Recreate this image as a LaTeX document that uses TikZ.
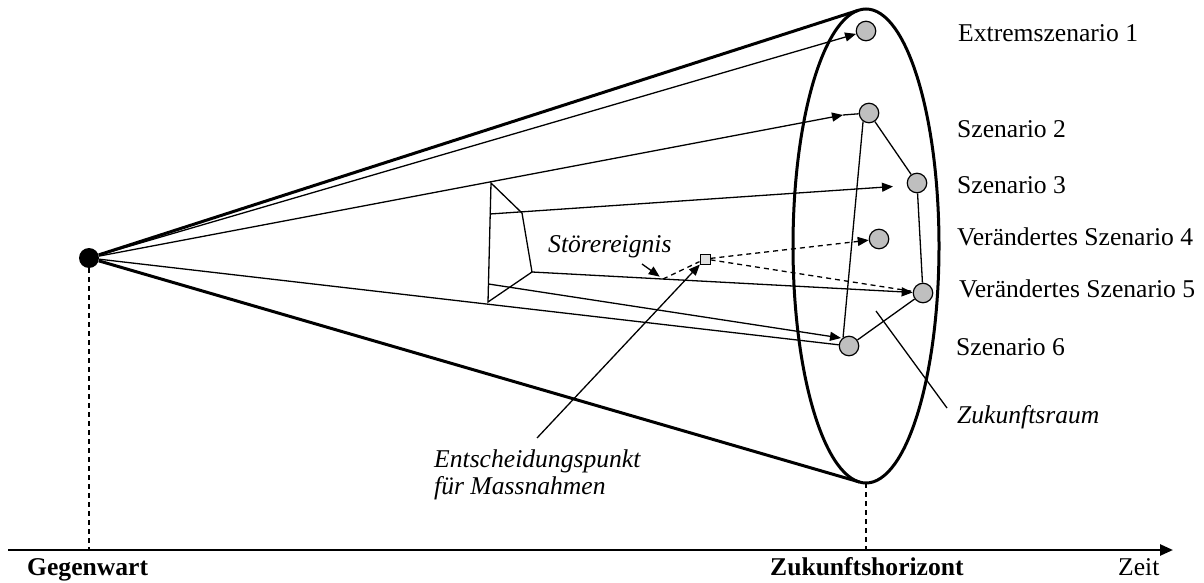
\documentclass[tikz,border=0pt]{standalone}
\usepackage{fontspec}
\setmainfont{Liberation Serif}
\usetikzlibrary{arrows.meta,calc}
\begin{document}
\begin{tikzpicture}[x=1pt,y=-1pt,
  thinline/.style={line width=1.3pt},
  cone/.style={line width=3pt},
  arr/.style={-{Triangle[length=11pt,width=9pt]}},
  scen/.style={circle,draw,line width=1.2pt,fill=black!25,minimum size=19.5pt,inner sep=0pt},
  lbl/.style={anchor=base west,inner sep=0pt,font=\fontsize{25.6}{30}\selectfont},
  dsh/.style={dash pattern=on 5pt off 4pt}
]
\useasboundingbox (0,0) rectangle (1204,583);

% nodes
\node[circle,fill=black,minimum size=20pt,inner sep=0pt] (dot) at (89,258) {};
\node[scen] (s1) at (866,31) {};
\node[scen] (s2) at (869,113) {};
\node[scen] (s3) at (917,183) {};
\node[scen] (s4) at (879,239) {};
\node[scen] (s5) at (923,293) {};
\node[scen] (s6) at (849,346) {};
\node[draw,line width=1pt,fill=black!12,minimum size=10pt,inner sep=0pt] (sq) at (705,259) {};

% coordinates
\coordinate (ec) at (866,246);
\coordinate (tt) at (858.7,10.2);
\coordinate (tb) at (859.5,482);
\coordinate (eb) at (866,483);
\coordinate (A) at (491,183);
\coordinate (B) at (522,213);
\coordinate (C) at (532,272);
\coordinate (D) at (488,302);
\coordinate (P3) at (490,214);
\coordinate (P6) at (488.5,284);
\coordinate (a2) at (843,115);
\coordinate (a3) at (893,186.5);
\coordinate (a6) at (841,338);
\coordinate (dp) at ($(C)!0.335!(s5)$);
\coordinate (sa) at (642,264);
\coordinate (ep) at (537,438);
\coordinate (zp) at (876,311);
\coordinate (zq) at (947,408);
\coordinate (ax0) at (8,550);
\coordinate (ax1) at (1173,550);

% cone
\draw[line width=3pt] (ec) ellipse [x radius=73pt, y radius=237pt];
\draw[cone] (dot) -- (tt);
\draw[cone] (dot) -- (tb);

% scenario paths
\draw[thinline,arr] (dot) -- (s1);
\draw[thinline,arr] (dot) -- (a2);
\draw[thinline] (a2) -- (s2);
\draw[thinline] (dot) -- (s6);
\draw[thinline] (A) -- (B) -- (C) -- (D) -- cycle;
\draw[thinline,arr] (P3) -- (a3);
\draw[thinline,arr] (C) -- (s5);
\draw[thinline,arr] (P6) -- (a6);
\draw[thinline] (s2) -- (s3);
\draw[thinline] (s3) -- (s5);
\draw[thinline] (s5) -- (s6);
\draw[thinline] (s2.235) -- (s6.125);

% disruption and decision
\draw[thinline,dsh] (dp) -- (sq);
\draw[thinline,dsh,arr] (sq) -- (s4);
\draw[thinline,dsh] (sq) -- (s5);
\draw[thinline,arr,shorten >=4pt] (sa) -- (dp);
\draw[thinline,arr] (ep) -- (sq);
\draw[thinline] (zp) -- (zq);

% time axis
\draw[thinline,dsh] (dot) -- (dot |- ax0);
\draw[thinline,dsh] (eb) -- (eb |- ax0);
\draw[line width=2.5pt,-{Triangle[length=13pt,width=11pt]}] (ax0) -- (ax1);

% labels
\node[lbl] (l1) at (958,41.7) {Extremszenario 1};
\node[lbl] (l2) at (957,138) {Szenario 2};
\node[lbl] (l3) at (957,193) {Szenario 3};
\node[lbl] (l4) at (957,245) {Verändertes Szenario 4};
\node[lbl] (l5) at (959,297) {Verändertes Szenario 5};
\node[lbl] (l6) at (956,355) {Szenario 6};
\node[lbl] (lz) at (957,423) {\itshape Zukunftsraum};
\node[lbl] (ls) at (548,252) {\itshape Störereignis};
\node[lbl] (le1) at (434,467) {\itshape Entscheidungspunkt};
\node[lbl] (le2) at (434,494) {\itshape für Massnahmen};
\node[lbl] (lg) at (27,575) {\bfseries Gegenwart};
\node[lbl] (lh) at (770,575) {\bfseries Zukunftshorizont};
\node[lbl] (lt) at (1118,575) {Zeit};
\end{tikzpicture}
\end{document}
